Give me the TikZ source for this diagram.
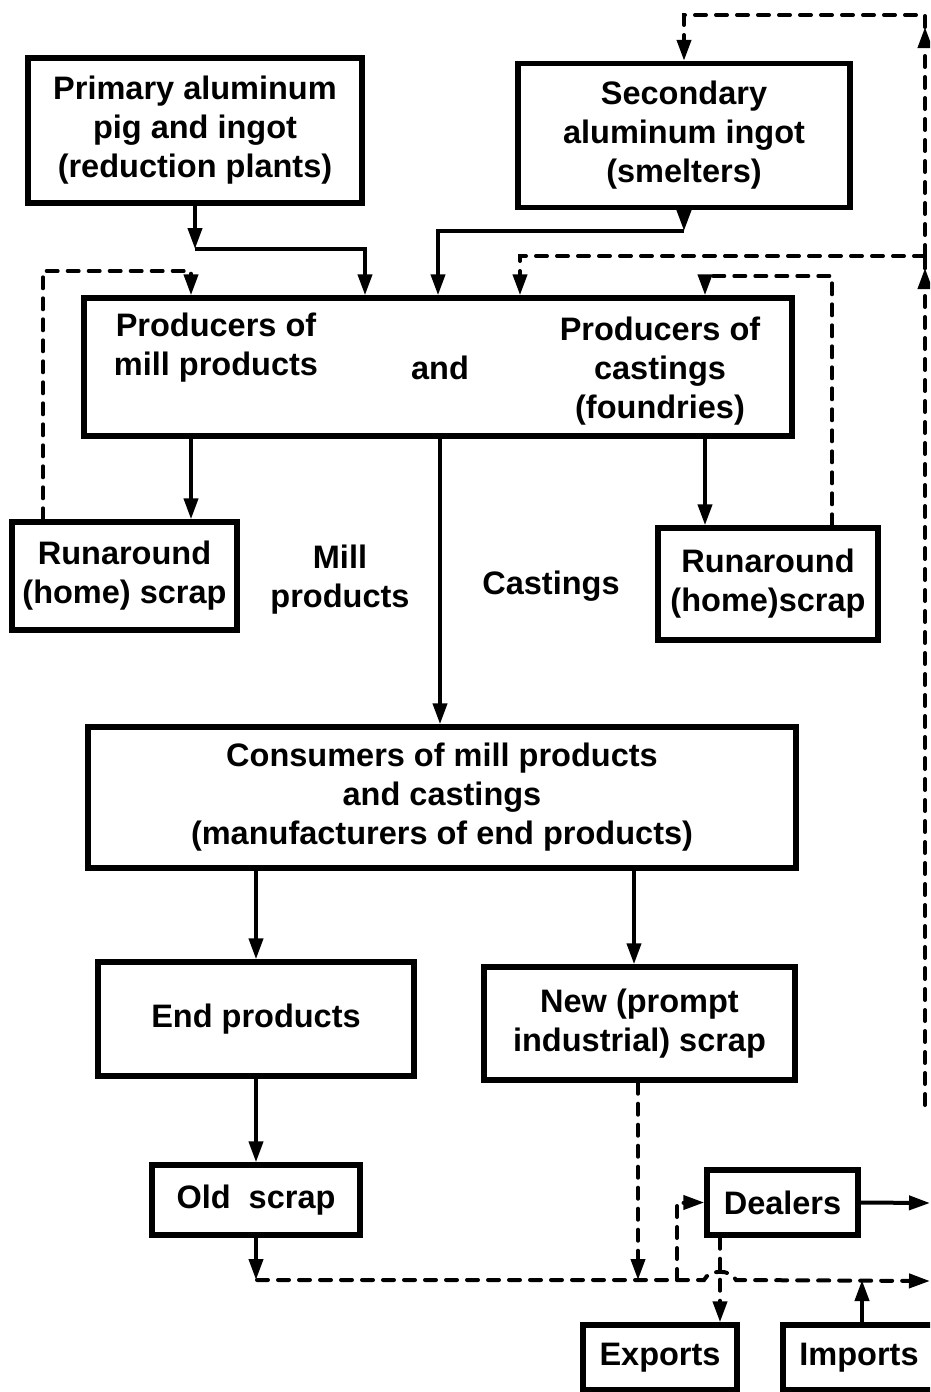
\documentclass[tikz,border=0pt]{standalone}
\usepackage{fontspec}
\setmainfont{Liberation Sans}
\usetikzlibrary{arrows.meta}

\begin{document}
\begin{tikzpicture}[x=1pt,y=-1pt,
  font=\fontsize{32.5}{39}\selectfont\bfseries,
  box/.style={draw, line width=5.4pt, rectangle, inner sep=0pt, align=center},
  lbl/.style={align=center, inner sep=0pt},
  arr/.style={line width=4pt, -{Triangle[length=21pt 0,width=14pt 0]}},
  dsh/.style={line width=4.6pt, dash pattern=on 11pt off 10pt, line cap=round}
]
\useasboundingbox (0,0) rectangle (930,1392);
\clip (0,0) rectangle (930,1392);

% ---------- boxes ----------
\node[box, minimum width=334pt, minimum height=145pt] (prim) at (195,130.5)
  {Primary aluminum\\pig and ingot\\(reduction plants)};
\node[box, minimum width=332pt, minimum height=144pt] (sec) at (684,135.5)
  {Secondary\\aluminum ingot\\(smelters)};
\node[box, minimum width=708pt, minimum height=138pt] (prod) at (438,367) {};
\node[lbl] (prodL) at (216,348) {Producers of\\mill products};
\node[lbl] (prodAnd) at (440,368) {and};
\node[lbl] (prodR) at (660,371) {Producers of\\castings\\(foundries)};

\node[box, minimum width=225pt, minimum height=108pt] (runL) at (124.5,576)
  {Runaround\\(home) scrap};
\node[box, minimum width=220pt, minimum height=112pt] (runR) at (768,584)
  {Runaround\\(home)scrap};
\node[lbl] (lblMill) at (340,580) {Mill\\products};
\node[lbl] (lblCast) at (551,586) {Castings};

\node[box, minimum width=708pt, minimum height=141pt] (cons) at (442,797.5)
  {Consumers of mill products\\and castings\\(manufacturers of end products)};
\node[box, minimum width=316pt, minimum height=114pt] (endp) at (256,1019)
  {End products};
\node[box, minimum width=311pt, minimum height=113pt] (newsc) at (639.5,1023.5)
  {New (prompt\\industrial) scrap};
\node[box, minimum width=208pt, minimum height=70pt] (old) at (256,1200)
  {Old\hspace{9pt} scrap};
\node[box, minimum width=151pt, minimum height=65pt] (dealers) at (782.5,1202.5)
  {Dealers};
\node[box, minimum width=154pt, minimum height=65pt] (exports) at (660,1357.5)
  {Exports};
\node[box, minimum width=152pt, minimum height=65pt] (imports) at (859,1357.5)
  {Imports};

% ---------- reference columns and rows ----------
\coordinate (xPrimIn) at (365,0);
\coordinate (xSecIn)  at (438,0);
\coordinate (xLoopIn) at (520,0);
\coordinate (xRunLIn) at (191,0);
\coordinate (xRunLOut) at (43,0);
\coordinate (xRunRIn) at (705,0);
\coordinate (xRunROut) at (832,0);
\coordinate (xMid)    at (440,0);
\coordinate (xNewIn)  at (634,0);
\coordinate (xNewOut) at (638,0);
\coordinate (xDealIn) at (677,0);
\coordinate (xExp)    at (720,0);
\coordinate (xImp)    at (862,0);
\coordinate (yPrim)   at (0,249);
\coordinate (ySec)    at (0,231);
\coordinate (yRunL)   at (0,271);
\coordinate (yRunR)   at (0,276);

% recycle loop along the right side
\coordinate (loopB)  at (925,1105);
\coordinate (loopMt) at (925,268);
\coordinate (loopM)  at (925,256);
\coordinate (loopTt) at (925,27);
\coordinate (loopT)  at (925,15);

% scrap collection line
\coordinate (hL)   at (257,1280);
\coordinate (hopA) at (704,1280);
\coordinate (hopB) at (736,1280);
\coordinate (hR)   at (930,1281);
\coordinate (dOut) at (930,1203);

% ---------- ingot supply ----------
\draw[arr] (prim.south) -- (prim.south |- yPrim);
\draw[arr] (prim.south |- yPrim) -| (prod.north -| xPrimIn);
\draw[arr] (sec.south) -- (sec.south |- ySec);
\draw[arr] (sec.south |- ySec) -| (prod.north -| xSecIn);

% ---------- scrap returned to smelters and producers ----------
\draw[dsh,arr] (loopB) -- (loopMt);
\draw[dsh] (loopMt) -- (loopM);
\draw[dsh,arr] (loopM) -- (loopTt);
\draw[dsh,arr] (loopTt) -- (loopT) -| (sec.north);
\draw[dsh,arr] (loopM) -| (prod.north -| xLoopIn);

% ---------- runaround scrap ----------
\draw[arr] (prod.south -| xRunLIn) -- (runL.north -| xRunLIn);
\draw[dsh,arr] (runL.north -| xRunLOut) |- (xRunLIn |- yRunL) -- (prod.north -| xRunLIn);
\draw[arr] (prod.south -| xRunRIn) -- (runR.north -| xRunRIn);
\draw[dsh,arr] (runR.north -| xRunROut) |- (xRunRIn |- yRunR) -- (prod.north -| xRunRIn);

% ---------- products downstream ----------
\draw[arr] (prod.south -| xMid) -- (cons.north -| xMid);
\draw[arr] (cons.south -| endp.north) -- (endp.north);
\draw[arr] (cons.south -| xNewIn) -- (newsc.north -| xNewIn);
\draw[arr] (endp.south) -- (old.north);

% ---------- scrap market ----------
\draw[arr] (old.south) -- (old.south |- hL);
\draw[dsh,arr] (hL) -- (hopA) .. controls (709,1269) and (731,1269) .. (hopB) -- (hR);
\draw[dsh,arr] (newsc.south -| xNewOut) -- (xNewOut |- hL);
\draw[dsh,arr] (xDealIn |- hL) |- (dealers.west);
\draw[dsh,arr] (dealers.south -| xExp) -- (exports.north -| xExp);
\draw[arr] (imports.north -| xImp) -- (xImp |- hL);
\draw[arr] (dealers.east) -- (dOut);
\end{tikzpicture}
\end{document}
